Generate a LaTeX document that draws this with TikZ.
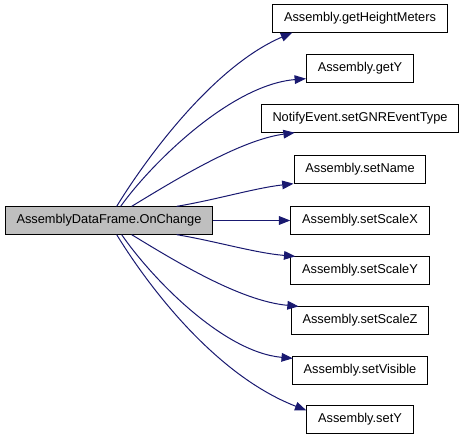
\documentclass[tikz,border=0pt]{standalone}
\usepackage{fontspec}
\setmainfont{Liberation Sans}
\usetikzlibrary{positioning, calc, arrows.meta}

\definecolor{callblue}{RGB}{25,25,112}
\definecolor{rootgray}{RGB}{191,191,191}

\tikzset{
  fnbox/.style={draw=black, line width=0.75pt, fill=white, inner xsep=8.5pt, inner ysep=0pt,
    minimum height=20.5pt, font=\fontsize{9.6}{11.5}\selectfont},
  rootbox/.style={fnbox, fill=rootgray},
  call/.style={draw=callblue, line width=0.75pt, -{Triangle[length=8.5pt,width=6.5pt,fill=callblue]}}
}

\begin{document}
\begin{tikzpicture}[x=0.75pt, y=-0.75pt]
    \useasboundingbox (0,0) rectangle (464,443);

    % Caller
    \node[rootbox] (main) at (109,220.5) {AssemblyDataFrame.OnChange};

    % Callees
    \node[fnbox] (ghm)     at (360,18.5)  {Assembly.getHeightMeters};
    \node[fnbox] (gety)    at (360,68.5)  {Assembly.getY};
    \node[fnbox] (notify)  at (360,118.5) {NotifyEvent.setGNREventType};
    \node[fnbox] (setname) at (360,169.5) {Assembly.setName};
    \node[fnbox] (scalex)  at (360,220.5) {Assembly.setScaleX};
    \node[fnbox] (scaley)  at (360,270.5) {Assembly.setScaleY};
    \node[fnbox] (scalez)  at (360,320.5) {Assembly.setScaleZ};
    \node[fnbox] (visible) at (360,370.5) {Assembly.setVisible};
    \node[fnbox] (sety)    at (360,419.5) {Assembly.setY};

    % Calls upwards
    \draw[call] ($(main.north west)+(112,0)$) .. controls (142,165) and (210,68) .. ($(ghm.south west)+(20,0)$);
    \draw[call] ($(main.north west)+(116,0)$) .. controls (150,165) and (230,85) .. ($(gety.south west)+(0,-4)$);
    \draw[call] ($(main.north west)+(127,0)$) .. controls (175,180) and (240,140) .. ($(notify.south west)+(34,0)$);
    \draw[call] ($(main.north west)+(172,0)$) .. controls (215,200) and (255,188) .. (setname.south west);

    % Straight call
    \draw[call] (main.east) -- (scalex.west);

    % Calls downwards
    \draw[call] ($(main.south west)+(172,0)$) .. controls (215,241) and (255,253) .. ($(scaley.north west)+(5,0)$);
    \draw[call] ($(main.south west)+(127,0)$) .. controls (175,261) and (240,301) .. ($(scalez.north west)+(8,0)$);
    \draw[call] ($(main.south west)+(117,0)$) .. controls (150,276) and (222,352) .. ($(visible.north west)+(1,2)$);
    \draw[call] ($(main.south west)+(112,0)$) .. controls (142,276) and (210,373) .. ($(sety.north west)+(0,5)$);
\end{tikzpicture}
\end{document}
